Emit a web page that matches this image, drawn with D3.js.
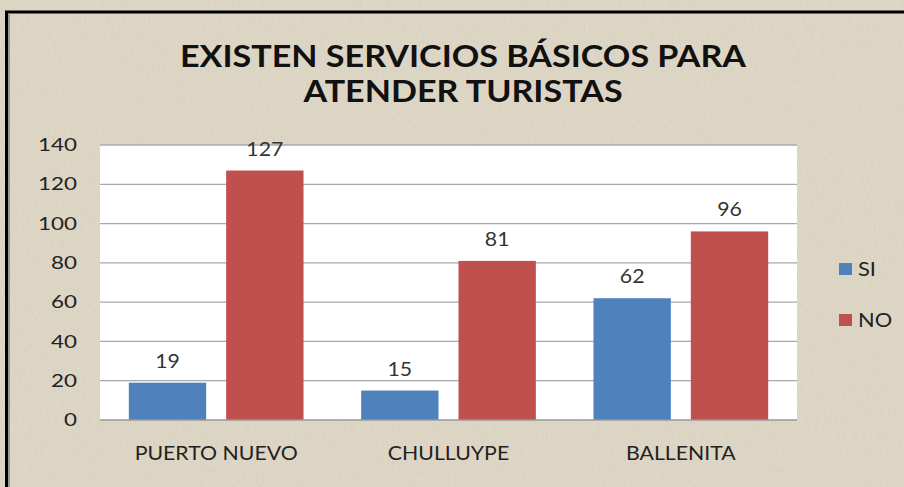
<!DOCTYPE html>
<html>
<head>
<meta charset="utf-8">
<script src="https://cdn.jsdelivr.net/npm/d3@7"></script>
<style>
  html, body { margin: 0; padding: 0; background: #fff; }
  svg { display: block; }
  text { font-family: Lato, "Open Sans", sans-serif; }
</style>
</head>
<body>
<svg id="chart" width="904" height="487"></svg>
<script>
// data
const categories = ['PUERTO NUEVO', 'CHULLUYPE', 'BALLENITA'];
const seriesNames = ['SI', 'NO'];
const siValues = [19, 15, 62];
const noValues = [127, 81, 96];
const yTicks = [0, 20, 40, 60, 80, 100, 120, 140];
const titleLines = ['EXISTEN SERVICIOS BÁSICOS PARA', 'ATENDER TURISTAS'];

const colors = { SI: '#4f81bd', NO: '#c0504d' };
const width = 904, height = 487;
const plot = { left: 100, right: 797, top: 145, bottom: 420 };

const svg = d3.select('#chart');

// the original picture is stretched sideways, so text gets a horizontal scale
function stretch(sel, sx) {
  sel.each(function () {
    const t = d3.select(this);
    const x = +t.attr('x') || 0;
    t.attr('x', x / sx).attr('transform', `scale(${sx},1)`);
  });
}

// parchment-ish background with a bit of noise
const defs = svg.append('defs');
const filt = defs.append('filter').attr('id', 'grain').attr('x', 0).attr('y', 0).attr('width', '100%').attr('height', '100%');
filt.append('feTurbulence').attr('type', 'fractalNoise').attr('baseFrequency', '0.9 0.12').attr('numOctaves', 2).attr('seed', 3).attr('result', 'n');
filt.append('feColorMatrix').attr('type', 'matrix')
  .attr('values', '0 0 0 0 0.55  0 0 0 0 0.5  0 0 0 0 0.42  0 0 0 -1.1 0.75');

svg.append('rect').attr('width', width).attr('height', height).attr('fill', '#dfd7c6');
svg.append('rect').attr('width', width).attr('height', height).attr('filter', 'url(#grain)').attr('opacity', 0.35);

// frame (top and left only, the rest is cropped)
svg.append('line').attr('x1', 5).attr('x2', width).attr('y1', 12).attr('y2', 12).attr('stroke', '#000').attr('stroke-width', 3);
svg.append('line').attr('x1', 6.5).attr('x2', 6.5).attr('y1', 11).attr('y2', height).attr('stroke', '#000').attr('stroke-width', 3);
svg.append('line').attr('x1', 9).attr('x2', 9).attr('y1', 13.5).attr('y2', height).attr('stroke', '#9a9a9a').attr('stroke-width', 2);

// title
const title = svg.append('g').selectAll('text').data(titleLines).enter().append('text')
  .attr('x', 463).attr('y', (d, i) => 67 + i * 35)
  .attr('text-anchor', 'middle')
  .attr('font-size', 31).attr('font-weight', 'bold').attr('fill', '#111')
  .text(d => d);
stretch(title, 1.1);

// scales
const x0 = d3.scaleBand().domain(categories).range([plot.left, plot.right]);
const y = d3.scaleLinear().domain([0, 140]).range([plot.bottom, plot.top]);
const barW = x0.bandwidth() * 0.333;
const innerGap = x0.bandwidth() * 0.086;

svg.append('rect').attr('x', plot.left).attr('y', plot.top)
  .attr('width', plot.right - plot.left).attr('height', plot.bottom - plot.top).attr('fill', '#fff');

// gridlines
svg.append('g').selectAll('line').data(yTicks.filter(t => t > 0)).enter().append('line')
  .attr('x1', plot.left).attr('x2', plot.right)
  .attr('y1', d => y(d)).attr('y2', d => y(d))
  .attr('stroke', '#a8a8a8').attr('stroke-width', 1.3);

// y axis labels
const yAxis = d3.axisLeft(y).tickValues(yTicks).tickSize(0).tickPadding(23);
const yg = svg.append('g').attr('transform', `translate(${plot.left},0)`).call(yAxis);
yg.select('.domain').remove();
yg.selectAll('text').attr('font-size', 17.5).attr('fill', '#222').attr('font-family', 'Lato, sans-serif');
stretch(yg.selectAll('text'), 1.28);

// bars
const rows = categories.map((c, i) => ({ cat: c, vals: [siValues[i], noValues[i]] }));
const groups = svg.append('g').selectAll('g').data(rows).enter().append('g')
  .attr('transform', d => `translate(${x0(d.cat) + x0.bandwidth() / 2},0)`);

const bx = j => j === 0 ? -innerGap / 2 - barW : innerGap / 2;

groups.selectAll('rect').data(d => d.vals).enter().append('rect')
  .attr('x', (v, j) => bx(j))
  .attr('y', v => y(v))
  .attr('width', barW)
  .attr('height', v => y(0) - y(v))
  .attr('fill', (v, j) => colors[seriesNames[j]]);

const labels = groups.selectAll('text').data(d => d.vals).enter().append('text')
  .attr('x', (v, j) => bx(j) + barW / 2)
  .attr('y', v => y(v) - 15)
  .attr('text-anchor', 'middle')
  .attr('font-size', 18.5).attr('fill', '#333')
  .text(v => v);
stretch(labels, 1.15);

// x axis
svg.append('line').attr('x1', plot.left).attr('x2', plot.right)
  .attr('y1', plot.bottom).attr('y2', plot.bottom).attr('stroke', '#999').attr('stroke-width', 1.3);
const xAxis = d3.axisBottom(x0).tickSize(0).tickPadding(27);
const xg = svg.append('g').attr('transform', `translate(0,${plot.bottom})`).call(xAxis);
xg.select('.domain').remove();
xg.selectAll('text').attr('font-size', 19).attr('fill', '#222').attr('font-family', 'Lato, sans-serif');
stretch(xg.selectAll('text'), 1.12);

// legend
const leg = svg.append('g').selectAll('g').data(seriesNames).enter().append('g')
  .attr('transform', (d, i) => `translate(839,${263 + i * 51})`);
leg.append('rect').attr('width', 13).attr('height', 12).attr('fill', d => colors[d]);
const legText = leg.append('text').attr('x', 19).attr('y', 13).attr('font-size', 19).attr('fill', '#222').text(d => d);
stretch(legText, 1.15);
</script>
</body>
</html>
